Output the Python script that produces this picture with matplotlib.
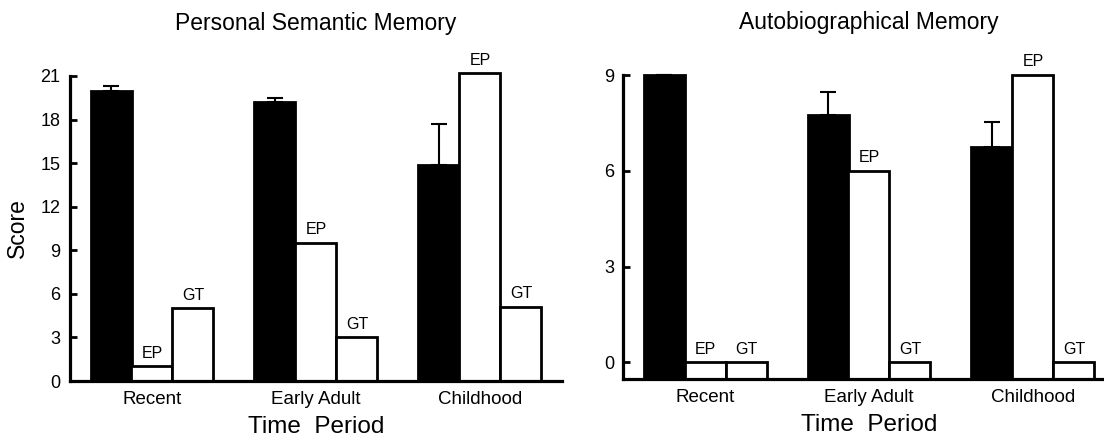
import matplotlib
matplotlib.use("Agg")
import matplotlib.pyplot as plt
import numpy as np

plt.rcParams['font.family'] = ['Liberation Sans', 'DejaVu Sans']

categories = ["Recent", "Early Adult", "Childhood"]
bar_labels = ["EP", "GT"]

# Personal Semantic Memory
psm_black = [20.0, 19.2, 14.9]
psm_black_err = [0.3, 0.3, 2.8]
psm_ep = [1.0, 9.5, 21.2]
psm_gt = [5.0, 3.0, 5.1]

# Autobiographical Memory
am_black = [9.0, 7.75, 6.75]
am_black_err = [0.0, 0.72, 0.78]
am_ep = [0.0, 6.0, 9.0]
am_gt = [0.0, 0.0, 0.0]

fig = plt.figure(figsize=(11.04, 4.44), dpi=100)
ax1 = fig.add_axes([70/1104, 1 - 381/444, 492/1104, 305/444])
ax2 = fig.add_axes([623/1104, 1 - 379/444, 492/1104, 304/444])

panels = [
    (ax1, "Personal Semantic Memory", psm_black, psm_black_err, psm_ep, psm_gt,
     (0, 21), [0, 3, 6, 9, 12, 15, 18, 21], True, 7),
    (ax2, "Autobiographical Memory", am_black, am_black_err, am_ep, am_gt,
     (-0.52, 9), [0, 3, 6, 9], False, 6),
]

w = 0.25
for ax, title, black, berr, ep, gt, ylim, yticks, show_ylabel, ypad in panels:
    x = np.arange(len(categories))
    base = ylim[0]
    black = np.array(black)
    ep = np.array(ep)
    gt = np.array(gt)
    ax.bar(x - w, black - base, bottom=base, width=w, color='black',
           edgecolor='black', linewidth=2, clip_on=False, zorder=2)
    ax.bar(x, ep - base, bottom=base, width=w, color='white',
           edgecolor='black', linewidth=2, clip_on=False, zorder=2)
    ax.bar(x + w, gt - base, bottom=base, width=w, color='white',
           edgecolor='black', linewidth=2, clip_on=False, zorder=2)
    ax.errorbar(x - w, black, yerr=[np.zeros(len(black)), berr], fmt='none',
                ecolor='black', elinewidth=1.5, capsize=5.5, capthick=1.5,
                zorder=3, clip_on=False)
    for xi, v in zip(x, ep):
        ax.annotate(bar_labels[0], (xi, v), xytext=(0, 4), textcoords='offset points',
                    ha='center', va='bottom', fontsize=11.5, annotation_clip=False)
    for xi, v in zip(x + w, gt):
        ax.annotate(bar_labels[1], (xi, v), xytext=(0, 4), textcoords='offset points',
                    ha='center', va='bottom', fontsize=11.5, annotation_clip=False)

    ax.set_xlim(-0.5, 2.5)
    ax.set_ylim(*ylim)
    ax.set_yticks(yticks)
    ax.set_xticks(x)
    ax.set_xticklabels(categories, fontsize=13.5)
    ax.tick_params(axis='x', length=0, pad=7)
    ax.tick_params(axis='y', direction='in', length=5, width=2, labelsize=13, pad=ypad)
    for s in ['top', 'right']:
        ax.spines[s].set_visible(False)
    for s in ['left', 'bottom']:
        ax.spines[s].set_linewidth(2.3)
    ax.set_title(title, fontsize=16.5, pad=33)
    ax.set_xlabel("Time  Period", fontsize=17.5, labelpad=6)
    if show_ylabel:
        ax.set_ylabel("Score", fontsize=16.5, labelpad=8)

fig.savefig("out.png", dpi=100)
